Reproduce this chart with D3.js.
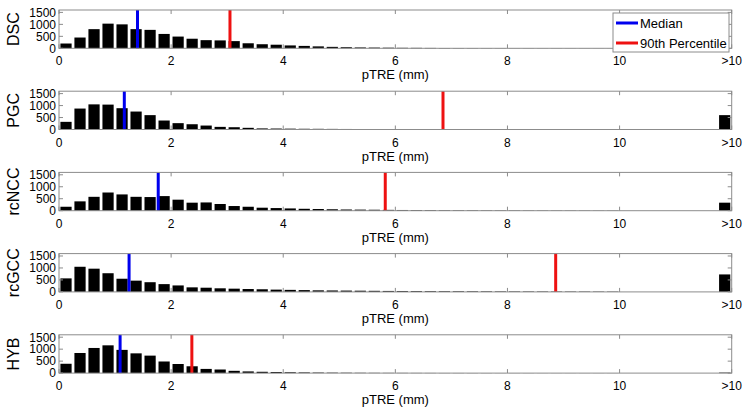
<!DOCTYPE html>
<html>
<head>
<meta charset="utf-8">
<script src="https://cdn.jsdelivr.net/npm/d3@7"></script>
<style>
  body { margin: 0; background: #fff; }
  svg { font-family: "Liberation Sans", Arial, sans-serif; }
</style>
</head>
<body>
<svg id="chart" width="751" height="416"></svg>
<script>
// histogram bins are 0.25 mm wide, 40 bins from 0 to 10, plus one ">10" bin
const methods = ["DSC", "PGC", "rcNCC", "rcGCC", "HYB"];

const countsDSC = [200, 450, 800, 1030, 1000, 800, 770, 600, 490, 400, 340, 330, 300, 210, 170,
  150, 120, 100, 80, 60, 45, 35, 30, 25, 20, 18, 15, 12, 10, 9, 8, 7, 6, 6, 5, 5, 4, 4, 3, 3];
const countsPGC = [320, 875, 1050, 1040, 890, 750, 600, 375, 265, 220, 165, 110, 95, 70, 45,
  40, 35, 30, 28, 25, 22, 20, 18, 16, 15, 14, 12, 11, 10, 10, 9, 9, 8, 8, 7, 7, 6, 6, 6, 5];
const countsNCC = [165, 390, 580, 760, 680, 580, 570, 610, 460, 335, 345, 280, 195, 165, 125,
  110, 95, 80, 70, 60, 50, 45, 40, 35, 30, 28, 25, 22, 20, 18, 16, 15, 14, 12, 11, 10, 9, 9, 8, 8];
const countsGCC = [565, 1050, 970, 780, 550, 470, 405, 325, 270, 190, 175, 150, 135, 120, 110,
  95, 85, 75, 65, 60, 55, 50, 45, 40, 38, 35, 32, 30, 28, 26, 24, 22, 20, 19, 18, 17, 16, 15, 14, 13];
const countsHYB = [390, 840, 1050, 1160, 970, 825, 730, 485, 380, 285, 175, 150, 95, 70, 55,
  45, 35, 28, 22, 18, 15, 12, 10, 9, 8, 7, 6, 5, 5, 4, 4, 3, 3, 3, 2, 2, 2, 2, 2, 2];
const countsOver10 = [5, 600, 335, 730, 20];
const counts = [countsDSC, countsPGC, countsNCC, countsGCC, countsHYB];

const medians = [1.40, 1.165, 1.77, 1.25, 1.09];
const pct90 = [3.05, 6.85, 5.82, 8.86, 2.37];

const xTicks = [0, 2, 4, 6, 8, 10, 12];
const xTickLabels = ["0", "2", "4", "6", "8", "10", ">10"];
const yTicks = [0, 500, 1000, 1500];
const binWidth = 0.25;

const svg = d3.select("#chart");
const left = 59, right = 731.7;
const panelTop = 10, panelStep = 81.2, panelH = 38.3;
const frame = "#8c8c8c";

const x = d3.scaleLinear().domain([0, 12]).range([left, right]);

methods.forEach((name, i) => {
  const top = panelTop + i * panelStep;
  const y = d3.scaleLinear().domain([0, 1600]).range([top + panelH, top]);
  const g = svg.append("g");

  const bins = counts[i].map((c, k) => ({ x0: k * binWidth, c }));
  bins.push({ x0: 12 - binWidth, c: countsOver10[i] });

  g.selectAll("rect.bar")
    .data(bins)
    .enter()
    .append("rect")
    .attr("class", "bar")
    .attr("x", d => x(d.x0 + binWidth * 0.1))
    .attr("width", x(binWidth * 0.8) - x(0))
    .attr("y", d => y(d.c))
    .attr("height", d => y(0) - y(d.c))
    .attr("fill", "#000");

  // median and 90th percentile
  [[medians[i], "#0000ee"], [pct90[i], "#ee1111"]].forEach(([v, col]) => {
    g.append("line")
      .attr("x1", x(v)).attr("x2", x(v))
      .attr("y1", y(1600)).attr("y2", y(0))
      .attr("stroke", col).attr("stroke-width", 3);
  });

  // frame
  g.append("rect")
    .attr("x", left).attr("y", top)
    .attr("width", right - left).attr("height", panelH)
    .attr("fill", "none").attr("stroke", frame).attr("stroke-width", 1);

  // inward ticks
  const tl = 4;
  xTicks.forEach(t => {
    g.append("line").attr("x1", x(t)).attr("x2", x(t))
      .attr("y1", y(0)).attr("y2", y(0) - tl).attr("stroke", frame);
    g.append("line").attr("x1", x(t)).attr("x2", x(t))
      .attr("y1", top).attr("y2", top + tl).attr("stroke", frame);
  });
  yTicks.forEach(t => {
    g.append("line").attr("x1", left).attr("x2", left + tl)
      .attr("y1", y(t)).attr("y2", y(t)).attr("stroke", frame);
    g.append("line").attr("x1", right).attr("x2", right - tl)
      .attr("y1", y(t)).attr("y2", y(t)).attr("stroke", frame);
  });

  // tick labels
  g.selectAll("text.xt")
    .data(xTicks)
    .enter()
    .append("text")
    .attr("x", d => x(d))
    .attr("y", y(0) + 17)
    .attr("text-anchor", "middle")
    .attr("font-size", 12)
    .text((d, k) => xTickLabels[k]);

  g.selectAll("text.yt")
    .data(yTicks)
    .enter()
    .append("text")
    .attr("x", left - 3)
    .attr("y", d => y(d))
    .attr("dy", "0.36em")
    .attr("text-anchor", "end")
    .attr("font-size", 12)
    .text(d => d);

  g.append("text")
    .attr("x", (left + right) / 2)
    .attr("y", y(0) + 31)
    .attr("text-anchor", "middle")
    .attr("font-size", 13)
    .text("pTRE (mm)");

  g.append("text")
    .attr("transform", `translate(19,${top + panelH / 2}) rotate(-90)`)
    .attr("text-anchor", "middle")
    .attr("font-size", 16)
    .text(name);
});

// legend in the top panel
const leg = svg.append("g").attr("transform", "translate(613,13)");
leg.append("rect").attr("width", 116).attr("height", 39)
  .attr("fill", "#fff").attr("stroke", frame);
[["Median", "#0000ee"], ["90th Percentile", "#ee1111"]].forEach(([lbl, col], k) => {
  const ly = 10 + k * 20;
  leg.append("line").attr("x1", 3).attr("x2", 25).attr("y1", ly).attr("y2", ly)
    .attr("stroke", col).attr("stroke-width", 3);
  leg.append("text").attr("x", 27).attr("y", ly).attr("dy", "0.36em")
    .attr("font-size", 13).text(lbl);
});
</script>
</body>
</html>
